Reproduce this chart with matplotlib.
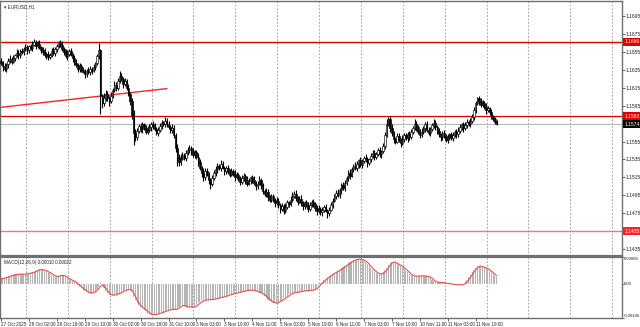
import numpy as np
import pandas as pd
import matplotlib
matplotlib.use("Agg")
import matplotlib.pyplot as plt
from matplotlib.transforms import blended_transform_factory

plt.rcParams["font.family"] = ["Liberation Sans", "DejaVu Sans"]

# --- EURUSD H1 candles (one value per bar) ---
first_open = 1.1645
closes = [
    1.1643, 1.1639, 1.1636, 1.1641, 1.1645, 1.1647, 1.1644, 1.1648, 1.1651, 1.1654, 1.1651, 1.1656,
    1.1655, 1.1658, 1.1660, 1.1657, 1.1661, 1.1659, 1.1663, 1.1666, 1.1662, 1.1664, 1.1660, 1.1657,
    1.1655, 1.1651, 1.1653, 1.1649, 1.1652, 1.1656, 1.1654, 1.1658, 1.1661, 1.1665, 1.1663, 1.1658,
    1.1655, 1.1650, 1.1653, 1.1656, 1.1652, 1.1648, 1.1643, 1.1640, 1.1636, 1.1639, 1.1635, 1.1633,
    1.1630, 1.1634, 1.1632, 1.1636, 1.1634, 1.1638, 1.1642, 1.1650, 1.1657, 1.1606, 1.1598, 1.1603,
    1.1608, 1.1604, 1.1600, 1.1606, 1.1612, 1.1618, 1.1615, 1.1622, 1.1628, 1.1625, 1.1619, 1.1622,
    1.1615, 1.1608, 1.1600, 1.1585, 1.1565, 1.1560, 1.1567, 1.1572, 1.1569, 1.1574, 1.1570, 1.1566,
    1.1568, 1.1571, 1.1575, 1.1572, 1.1569, 1.1565, 1.1568, 1.1572, 1.1576, 1.1574, 1.1578, 1.1575,
    1.1571, 1.1568, 1.1570, 1.1562, 1.1548, 1.1538, 1.1532, 1.1536, 1.1540, 1.1537, 1.1542, 1.1545,
    1.1548, 1.1544, 1.1540, 1.1543, 1.1538, 1.1532, 1.1526, 1.1520, 1.1515, 1.1522, 1.1518, 1.1512,
    1.1508, 1.1514, 1.1520, 1.1524, 1.1528, 1.1525, 1.1530, 1.1526, 1.1522, 1.1525, 1.1521, 1.1518,
    1.1522, 1.1519, 1.1515, 1.1518, 1.1514, 1.1510, 1.1514, 1.1517, 1.1512, 1.1508, 1.1511, 1.1515,
    1.1512, 1.1509, 1.1505, 1.1508, 1.1512, 1.1506, 1.1500, 1.1496, 1.1499, 1.1493, 1.1490, 1.1494,
    1.1490, 1.1486, 1.1489, 1.1484, 1.1480, 1.1483, 1.1478, 1.1482, 1.1487, 1.1485, 1.1490, 1.1494,
    1.1497, 1.1492, 1.1488, 1.1491, 1.1486, 1.1483, 1.1487, 1.1484, 1.1480, 1.1484, 1.1488, 1.1485,
    1.1481, 1.1477, 1.1480, 1.1476, 1.1479, 1.1482, 1.1478, 1.1475, 1.1479, 1.1484, 1.1489, 1.1494,
    1.1498, 1.1495, 1.1501, 1.1506, 1.1503, 1.1509, 1.1514, 1.1520, 1.1517, 1.1524, 1.1528, 1.1525,
    1.1530, 1.1534, 1.1529, 1.1533, 1.1537, 1.1535, 1.1531, 1.1535, 1.1539, 1.1542, 1.1538, 1.1541,
    1.1545, 1.1541, 1.1544, 1.1550, 1.1562, 1.1575, 1.1580, 1.1570, 1.1564, 1.1558, 1.1555, 1.1561,
    1.1557, 1.1553, 1.1558, 1.1562, 1.1559, 1.1563, 1.1560, 1.1566, 1.1570, 1.1575, 1.1571, 1.1566,
    1.1562, 1.1566, 1.1570, 1.1574, 1.1568, 1.1565, 1.1569, 1.1573, 1.1576, 1.1571, 1.1567, 1.1563,
    1.1560, 1.1564, 1.1561, 1.1557, 1.1560, 1.1563, 1.1559, 1.1562, 1.1566, 1.1563, 1.1567, 1.1571,
    1.1574, 1.1570, 1.1573, 1.1577, 1.1574, 1.1578, 1.1582, 1.1590, 1.1598, 1.1603, 1.1600, 1.1596,
    1.1598, 1.1594, 1.1590, 1.1592, 1.1588, 1.1583, 1.1580, 1.1577, 1.1575,
]
# wick lengths above / below the body, in pips
upper_wick = [
    3, 2, 4, 2, 3, 5, 2, 3, 2, 4, 3, 2,
    3, 2, 4, 3, 2, 3, 4, 3, 2, 3, 4, 2,
    3, 4, 2, 3, 2, 3, 4, 2, 3, 2, 3, 4,
    2, 3, 4, 2, 3, 2, 3, 4, 2, 3, 2, 3,
    3, 2, 4, 3, 2, 3, 2, 3, 8, 1, 2, 6,
    4, 3, 2, 4, 3, 5, 3, 4, 6, 3, 2, 4,
    3, 4, 2, 3, 5, 4, 3, 2, 4, 3, 2, 3,
    4, 3, 2, 3, 4, 2, 3, 4, 3, 2, 4, 3,
    3, 2, 4, 3, 2, 4, 3, 5, 3, 2, 3, 4,
    3, 2, 4, 3, 2, 4, 3, 2, 5, 3, 4, 3,
    2, 4, 3, 4, 3, 2, 4, 3, 2, 3, 4, 3,
    3, 2, 4, 3, 2, 3, 4, 3, 2, 4, 3, 2,
    3, 4, 2, 3, 4, 2, 3, 2, 4, 3, 2, 3,
    3, 2, 4, 3, 2, 3, 2, 4, 3, 2, 4, 5,
    3, 4, 2, 3, 4, 3, 2, 3, 4, 3, 2, 3,
    2, 3, 4, 2, 3, 2, 3, 2, 3, 4, 3, 2,
    3, 4, 2, 3, 4, 3, 2, 3, 4, 3, 2, 4,
    3, 2, 4, 3, 2, 4, 3, 2, 3, 4, 3, 2,
    3, 4, 2, 3, 4, 5, 2, 3, 4, 3, 2, 4,
    3, 2, 4, 3, 2, 3, 4, 3, 2, 5, 3, 2,
    3, 4, 2, 3, 4, 3, 2, 3, 4, 3, 2, 3,
    2, 3, 4, 2, 3, 2, 3, 4, 2, 3, 4, 3,
    2, 3, 4, 3, 2, 3, 4, 3, 2, 2, 3, 4,
    3, 2, 4, 3, 2, 3, 2, 2, 2,
]
lower_wick = [
    3, 5, 2, 3, 4, 2, 3, 2, 3, 2, 4, 3,
    2, 3, 2, 4, 3, 2, 3, 2, 4, 3, 2, 3,
    3, 2, 4, 3, 2, 3, 2, 4, 3, 2, 3, 2,
    3, 2, 4, 3, 2, 4, 3, 2, 3, 4, 3, 2,
    4, 3, 2, 3, 4, 2, 3, 2, 3, 20, 6, 3,
    3, 4, 5, 2, 3, 2, 4, 3, 2, 3, 4, 2,
    3, 2, 4, 5, 14, 4, 3, 2, 3, 4, 2, 3,
    3, 2, 4, 3, 2, 3, 4, 2, 3, 2, 3, 4,
    2, 3, 4, 3, 5, 10, 4, 3, 2, 3, 4, 2,
    3, 4, 2, 3, 2, 4, 3, 5, 4, 3, 2, 4,
    6, 3, 2, 3, 4, 2, 3, 2, 4, 3, 2, 3,
    2, 3, 4, 2, 3, 4, 2, 3, 4, 3, 2, 3,
    3, 2, 4, 3, 2, 4, 3, 2, 3, 4, 3, 2,
    3, 4, 2, 3, 5, 2, 4, 3, 2, 3, 2, 3,
    2, 3, 4, 2, 3, 4, 3, 2, 4, 3, 2, 3,
    3, 4, 2, 3, 4, 3, 2, 5, 3, 2, 3, 2,
    3, 2, 3, 4, 2, 3, 2, 3, 4, 2, 3, 2,
    3, 4, 2, 3, 2, 3, 4, 2, 3, 2, 4, 3,
    2, 3, 4, 2, 3, 2, 3, 4, 3, 5, 3, 2,
    3, 4, 2, 3, 2, 4, 3, 2, 3, 2, 4, 3,
    3, 2, 3, 4, 2, 3, 4, 2, 3, 3, 4, 3,
    4, 3, 2, 3, 4, 3, 2, 3, 2, 4, 3, 2,
    3, 4, 2, 3, 2, 3, 2, 3, 3, 2, 4, 3,
    2, 3, 4, 2, 3, 3, 2, 3, 2,
]
# MACD main line per bar, in units of 0.00001
macd_main = [
    17, 19, 21, 23, 25, 27, 29, 30, 31, 32, 32, 31,
    31, 32, 33, 34, 35, 36, 38, 40, 43, 46, 47, 46,
    45, 43, 40, 37, 35, 30, 26, 24, 25, 27, 28, 29,
    26, 22, 18, 15, 13, 10, 7, 4, -2, -8, -12, -17,
    -20, -24, -28, -28, -26, -25, -20, -14, -8, 3, -5, -13,
    -20, -27, -33, -35, -34, -33, -31, -29, -27, -24, -20, -18,
    -17, -16, -17, -24, -39, -50, -60, -66, -72, -76, -80, -84,
    -90, -94, -96, -96, -95, -94, -92, -90, -88, -86, -84, -82,
    -80, -79, -78, -79, -80, -76, -70, -65, -66, -69, -72, -72,
    -71, -71, -74, -70, -64, -60, -56, -52, -50, -49, -49, -49,
    -49, -48, -46, -45, -44, -43, -41, -40, -38, -36, -34, -32,
    -31, -30, -29, -27, -25, -24, -22, -21, -20, -19, -18, -18,
    -19, -20, -22, -24, -26, -28, -32, -36, -42, -48, -53, -56,
    -58, -60, -59, -55, -51, -48, -44, -40, -36, -32, -29, -27,
    -26, -25, -24, -23, -22, -21, -20, -20, -19, -19, -18, -18,
    -15, -10, -3, 3, 8, 13, 18, 22, 26, 30, 34, 37,
    40, 43, 46, 50, 54, 58, 62, 66, 70, 73, 76, 78,
    79, 79, 78, 76, 74, 70, 64, 57, 50, 45, 40, 36,
    33, 32, 33, 38, 44, 50, 60, 68, 71, 70, 67, 63,
    61, 58, 54, 48, 43, 38, 33, 28, 26, 25, 26, 27,
    27, 27, 26, 26, 25, 24, 20, 14, 9, 7, 6, 6,
    6, 5, 4, 3, 2, 1, 0, 0, -1, -1, -2, -2,
    -1, 0, 6, 14, 22, 30, 38, 46, 52, 58, 58, 56,
    54, 52, 50, 46, 42, 37, 32, 27, 22,
]
macd_label = "MACD(12,26,9) 0.00010 0.00022"
signal_period = 3

date_labels = ["27 Oct 2025", "28 Oct 02:00", "28 Oct 18:00", "29 Oct 10:00",
               "30 Oct 02:00", "30 Oct 18:00", "31 Oct 10:00", "3 Nov 03:00",
               "3 Nov 19:00", "4 Nov 11:00", "5 Nov 03:00", "5 Nov 19:00",
               "6 Nov 11:00", "7 Nov 03:00", "7 Nov 19:00", "10 Nov 11:00",
               "11 Nov 03:00", "11 Nov 19:00"]
price_ticks = [1.1695, 1.1675, 1.1655, 1.1635, 1.1615, 1.1595, 1.1575,
               1.1555, 1.1535, 1.1515, 1.1495, 1.1475, 1.1455, 1.1435]
level_top, level_mid, level_low = 1.1666, 1.1583, 1.1455
last_price = 1.1574
trend_x = [-0.6, 95]
trend_y = [1.1593, 1.1614]
macd_top, macd_bottom = 0.00086, -0.00106

# --- prepare ---
closes = np.array(closes)
opens = np.concatenate([[first_open], closes[:-1]])
highs = np.maximum(opens, closes) + np.array(upper_wick) * 0.0001
lows = np.minimum(opens, closes) - np.array(lower_wick) * 0.0001
xs = np.arange(len(closes))
macd = np.array(macd_main) * 1e-5
signal = pd.Series(macd).rolling(signal_period, min_periods=1).mean().values

W, H = 640, 327
fig = plt.figure(figsize=(W / 100, H / 100), dpi=100)
ax = fig.add_axes([0, 1 - 256 / H, 622 / W, 255 / H])
ax2 = fig.add_axes([0, 1 - 318 / H, 622 / W, 61 / H])
xlim = (-0.6, 355.9)
fs = 3.6
fs_small = 3.3

# vertical dashed grid
for a in (ax, ax2):
    for g in np.arange(14.3, xlim[1], 24):
        a.axvline(g, color="#808080", lw=0.5, ls=(0, (2.5, 2.5)), zorder=0)
    a.set_xlim(*xlim)
    for sp in a.spines.values():
        sp.set_color("#707070")
        sp.set_linewidth(1.0)
ax.spines["bottom"].set_linewidth(1.6)
ax2.spines["top"].set_linewidth(1.6)

# candles
ax.vlines(xs, lows, highs, color="black", lw=0.8, zorder=3)
bull = closes >= opens
body_h = np.maximum(np.abs(closes - opens), 0.00002)
body_b = np.minimum(opens, closes)
ax.bar(xs[bull], body_h[bull], bottom=body_b[bull], width=0.8,
       color="white", edgecolor="black", linewidth=0.45, zorder=4)
ax.bar(xs[~bull], body_h[~bull], bottom=body_b[~bull], width=0.8,
       color="black", edgecolor="black", linewidth=0.45, zorder=4)

# levels and trendline
ax.axhline(level_top, color="#e00000", lw=1.0, zorder=2)
ax.axhline(level_mid, color="#e00000", lw=0.9, zorder=2)
ax.axhline(level_low, color="#ff7070", lw=1.0, zorder=2)
ax.axhline(last_price, color="#b8b8b8", lw=0.8, zorder=1)
ax.plot(trend_x, trend_y, color="#ff2020", lw=1.0, zorder=2)

ax.set_ylim(1.14273, 1.17117)
ax.set_yticks(price_ticks)
ax.set_yticklabels([f"{p:.4f}" for p in price_ticks])
ax.yaxis.tick_right()
ax.tick_params(axis="y", labelsize=fs, length=2, width=0.5, pad=0.8, colors="#222222")
ax.tick_params(axis="x", bottom=False, labelbottom=False)

tr = blended_transform_factory(ax.transAxes, ax.transData)
for val, bg in ((level_top, "#e00000"), (level_mid, "#e00000"),
                (level_low, "#ff2020"), (last_price, "black")):
    ax.text(1.004, val, f"{val:.4f}", transform=tr, ha="left", va="center",
            fontsize=fs, color="white", clip_on=False, zorder=10,
            bbox=dict(boxstyle="square,pad=0.3", fc=bg, ec="none"))

ax.text(0.006, 0.988, "\u25be EURUSD,H1", transform=ax.transAxes, ha="left",
        va="top", fontsize=fs_small, color="#222222")

# MACD panel
ax2.bar(xs, macd, width=0.6, color="#b4b4b4", zorder=2)
ax2.plot(xs, signal, color="#f04848", lw=0.8, zorder=3)
ax2.set_ylim(macd_bottom, macd_top)
ax2.set_yticks([])
tr2 = blended_transform_factory(ax2.transAxes, ax2.transData)
for val, txt, va in ((macd_top, "0.00086", "top"), (0.0, "0.00", "center"),
                     (macd_bottom, "-0.00106", "bottom")):
    ax2.text(1.003, val, txt, transform=tr2, ha="left", va=va,
             fontsize=3.1, color="#222222", clip_on=False)
    ax2.plot([1.0, 1.003], [val, val], transform=tr2, color="#555555",
             lw=0.5, clip_on=False)
ax2.text(0.006, 0.95, macd_label, transform=ax2.transAxes, ha="left", va="top",
         fontsize=fs_small, color="#222222")

ax2.set_xticks(np.arange(len(date_labels)) * 16)
ax2.set_xticklabels(date_labels, ha="left")
ax2.tick_params(axis="x", labelsize=fs_small, length=2, width=0.5, pad=0.8,
                colors="#222222")

fig.savefig("out.png", dpi=100, facecolor="white")
